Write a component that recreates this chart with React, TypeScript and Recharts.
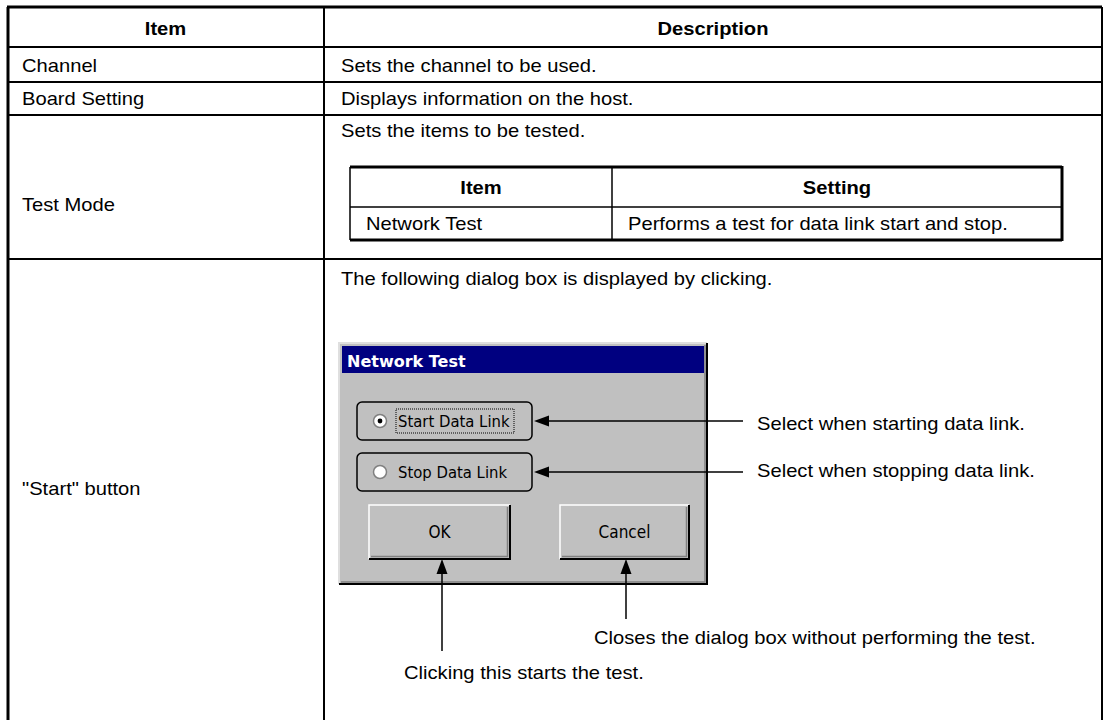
import { ComposedChart, Customized } from "recharts";

// table content
const headers = ["Item", "Description"];
const items = ["Channel", "Board Setting", "Test Mode", "\"Start\" button"];
const descriptions = [
  "Sets the channel to be used.",
  "Displays information on the host.",
  "Sets the items to be tested.",
  "The following dialog box is displayed by clicking.",
];
const subHeaders = ["Item", "Setting"];
const subRow = ["Network Test", "Performs a test for data link start and stop."];
const dialogTitle = "Network Test";
const radioLabels = ["Start Data Link", "Stop Data Link"];
const buttonLabels = ["OK", "Cancel"];
const sideNotes = ["Select when starting data link.", "Select when stopping data link."];
const bottomNotes = ["Clicking this starts the test.", "Closes the dialog box without performing the test."];

const W = 1104;
const H = 720;
const FONT = "'Liberation Sans', Arial, sans-serif";
const UI_FONT = "'DejaVu Sans Condensed', 'Liberation Sans Narrow', sans-serif";

// row boundaries of the outer table
const rowY = [7, 47, 82, 115, 259, 740];
const colX = [7, 324, 1102];

// the scan's text is a little wide, so stretch it a bit
const Txt = ({
  x,
  y,
  children,
  anchor = "start",
  bold = false,
}: {
  x: number;
  y: number;
  children: string;
  anchor?: "start" | "middle";
  bold?: boolean;
}) => (
  <text
    transform={`translate(${x},${y}) scale(1.12,1)`}
    textAnchor={anchor}
    fontFamily={FONT}
    fontSize={18}
    fontWeight={bold ? "bold" : "normal"}
    fill="#000"
  >
    {children}
  </text>
);

const ArrowHead = ({ x, y, dir }: { x: number; y: number; dir: "left" | "up" }) => {
  const len = 15;
  const half = 5.5;
  const pts =
    dir === "left"
      ? `${x},${y} ${x + len},${y - half} ${x + len},${y + half}`
      : `${x},${y} ${x - half},${y + len} ${x + half},${y + len}`;
  return <polygon points={pts} fill="#000" />;
};

const Button = ({ x, y, w, h, label }: { x: number; y: number; w: number; h: number; label: string }) => (
  <g>
    <rect x={x} y={y} width={w} height={h} fill="#c0c0c0" />
    <polyline points={`${x},${y + h} ${x},${y} ${x + w},${y}`} fill="none" stroke="#fff" strokeWidth={1.5} />
    <polyline points={`${x + w},${y} ${x + w},${y + h} ${x},${y + h}`} fill="none" stroke="#000" strokeWidth={2} />
    <polyline
      points={`${x + w - 2.5},${y + 2} ${x + w - 2.5},${y + h - 2.5} ${x + 2},${y + h - 2.5}`}
      fill="none"
      stroke="#808080"
      strokeWidth={1.5}
    />
    <text x={x + w / 2} y={y + h / 2 + 6} textAnchor="middle" fontFamily={UI_FONT} fontSize={17} fill="#000">
      {label}
    </text>
  </g>
);

const Table = () => {
  const descX = colX[1] + 17;
  const itemX = colX[0] + 15;
  const itemBase = [72, 105, 211, 495];
  const descBase = [72, 105, 137, 285];
  // inner table
  const ix = [350, 612, 1062];
  const iy = [167, 207, 240];
  // dialog
  const dx = 339;
  const dy = 343;
  const dw = 368;
  const dh = 241;
  const radioY = [421, 472];
  const noteBase = [430, 477];
  const btnX = [369, 560];
  const btnW = [141, 129];
  const btnY = 505;
  const btnH = 54;
  const arrowUpX = [442, 626];
  const arrowUpEnd = [651, 619];

  return (
    <g>
      {/* outer table */}
      <line x1={colX[0]} y1={rowY[0]} x2={colX[2]} y2={rowY[0]} stroke="#000" strokeWidth={3} />
      <line x1={colX[0] + 1} y1={rowY[0]} x2={colX[0] + 1} y2={H} stroke="#000" strokeWidth={3} />
      <line x1={colX[2]} y1={rowY[0]} x2={colX[2]} y2={H} stroke="#000" strokeWidth={2} />
      <line x1={colX[1]} y1={rowY[0]} x2={colX[1]} y2={H} stroke="#000" strokeWidth={2} />
      {rowY.slice(1, 5).map((y) => (
        <line key={y} x1={colX[0]} y1={y} x2={colX[2]} y2={y} stroke="#000" strokeWidth={2} />
      ))}
      <Txt x={(colX[0] + colX[1]) / 2} y={35} anchor="middle" bold>
        {headers[0]}
      </Txt>
      <Txt x={(colX[1] + colX[2]) / 2} y={35} anchor="middle" bold>
        {headers[1]}
      </Txt>
      {items.map((t, i) => (
        <Txt key={t} x={itemX} y={itemBase[i]}>
          {t}
        </Txt>
      ))}
      {descriptions.map((t, i) => (
        <Txt key={t} x={descX} y={descBase[i]}>
          {t}
        </Txt>
      ))}

      {/* inner table */}
      <line x1={ix[0]} y1={iy[0]} x2={ix[2]} y2={iy[0]} stroke="#000" strokeWidth={3} />
      <line x1={ix[0]} y1={iy[2]} x2={ix[2]} y2={iy[2]} stroke="#000" strokeWidth={3} />
      <line x1={ix[0]} y1={iy[1]} x2={ix[2]} y2={iy[1]} stroke="#000" strokeWidth={1.5} />
      <line x1={ix[0]} y1={iy[0]} x2={ix[0]} y2={iy[2]} stroke="#000" strokeWidth={1.5} />
      <line x1={ix[1]} y1={iy[0]} x2={ix[1]} y2={iy[2]} stroke="#000" strokeWidth={1.5} />
      <line x1={ix[2]} y1={iy[0] - 1} x2={ix[2]} y2={iy[2] + 1} stroke="#000" strokeWidth={3} />
      <Txt x={(ix[0] + ix[1]) / 2} y={194} anchor="middle" bold>
        {subHeaders[0]}
      </Txt>
      <Txt x={(ix[1] + ix[2]) / 2} y={194} anchor="middle" bold>
        {subHeaders[1]}
      </Txt>
      <Txt x={ix[0] + 16} y={230}>
        {subRow[0]}
      </Txt>
      <Txt x={ix[1] + 16} y={230}>
        {subRow[1]}
      </Txt>

      {/* dialog */}
      <rect x={dx} y={dy} width={dw} height={dh} fill="#c0c0c0" />
      <polyline points={`${dx},${dy + dh} ${dx},${dy} ${dx + dw},${dy}`} fill="none" stroke="#dfdfdf" strokeWidth={2} />
      <polyline points={`${dx + dw},${dy} ${dx + dw},${dy + dh} ${dx},${dy + dh}`} fill="none" stroke="#000" strokeWidth={2} />
      <polyline
        points={`${dx + dw - 2},${dy + 2} ${dx + dw - 2},${dy + dh - 2} ${dx + 2},${dy + dh - 2}`}
        fill="none"
        stroke="#808080"
        strokeWidth={1.5}
      />
      <rect x={dx + 3} y={dy + 3} width={dw - 6} height={27} fill="#000080" />
      <text x={dx + 8} y={dy + 24} fontFamily="'DejaVu Sans', sans-serif" fontWeight="bold" fontSize={16} fill="#fff">
        {dialogTitle}
      </text>
      {radioLabels.map((t, i) => {
        const cy = radioY[i];
        return (
          <g key={t}>
            <rect x={357} y={cy - 19} width={175} height={38} rx={5} fill="none" stroke="#000" strokeWidth={1.5} />
            <circle cx={380} cy={cy} r={6.5} fill="#fff" stroke="#808080" strokeWidth={1.5} />
            {i === 0 && <circle cx={380} cy={cy} r={2.4} fill="#000" />}
            {i === 0 && (
              <rect
                x={396}
                y={cy - 12}
                width={118}
                height={24}
                fill="none"
                stroke="#000"
                strokeWidth={1}
                strokeDasharray="1 1"
              />
            )}
            <text x={398} y={cy + 6} fontFamily={UI_FONT} fontSize={16.5} fill="#000">
              {t}
            </text>
            <line x1={548} y1={cy} x2={743} y2={cy} stroke="#000" strokeWidth={1.5} />
            <ArrowHead x={534} y={cy} dir="left" />
            <Txt x={757} y={noteBase[i]}>
              {sideNotes[i]}
            </Txt>
          </g>
        );
      })}
      {buttonLabels.map((t, i) => (
        <Button key={t} x={btnX[i]} y={btnY} w={btnW[i]} h={btnH} label={t} />
      ))}
      {arrowUpX.map((x, i) => (
        <g key={x}>
          <line x1={x} y1={btnY + btnH + 14} x2={x} y2={arrowUpEnd[i]} stroke="#000" strokeWidth={1.5} />
          <ArrowHead x={x} y={btnY + btnH} dir="up" />
        </g>
      ))}
      <Txt x={404} y={679}>
        {bottomNotes[0]}
      </Txt>
      <Txt x={594} y={644}>
        {bottomNotes[1]}
      </Txt>
    </g>
  );
};

export default function App() {
  return (
    <div style={{ position: "absolute", left: 0, top: 0, background: "#fff" }}>
      <ComposedChart width={W} height={H} data={items.map((name) => ({ name }))} margin={{ top: 0, right: 0, bottom: 0, left: 0 }}>
        <Customized component={Table} />
      </ComposedChart>
    </div>
  );
}
